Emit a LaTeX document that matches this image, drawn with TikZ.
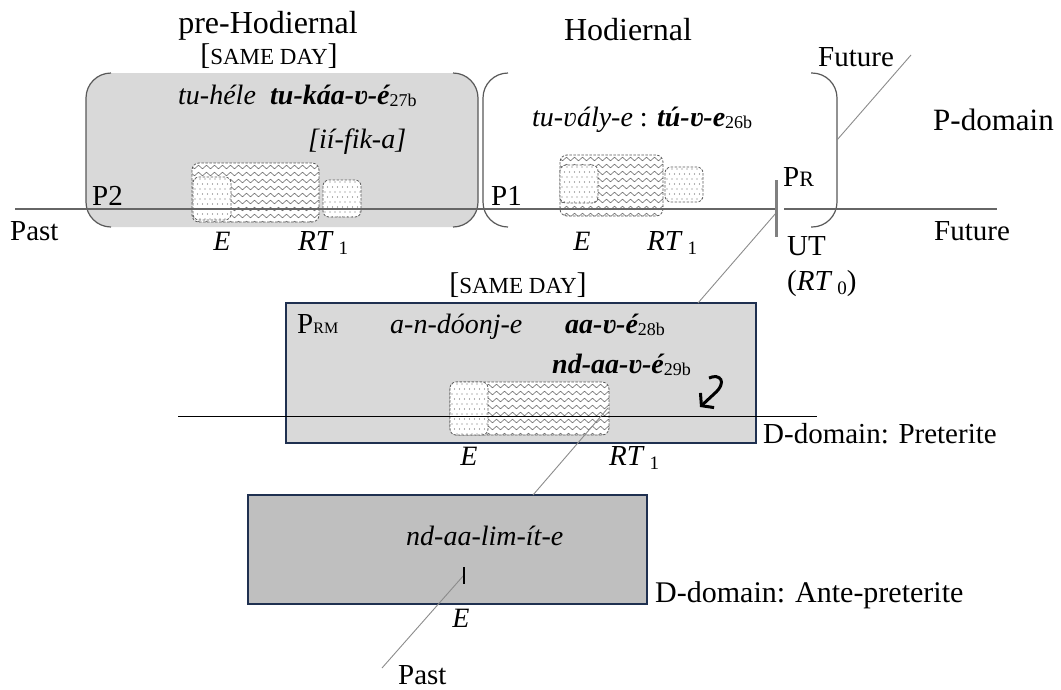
\documentclass[tikz,border=0pt]{standalone}
\usepackage{fontspec}
\setmainfont{Liberation Serif}
\usetikzlibrary{decorations.pathmorphing,arrows.meta}
\newcommand{\fs}[1]{\fontsize{#1}{#1}\selectfont}
\newcommand{\RTsub}[1]{\textit{RT}\,{\fs{19}\raisebox{-4pt}{#1}}}
\newcommand{\exsub}[1]{{\fs{18}\raisebox{-2pt}{#1}}}
\definecolor{navy}{HTML}{1F3050}
\definecolor{lightfill}{HTML}{D9D9D9}
\definecolor{darkfill}{HTML}{BFBFBF}
\tikzset{
  lbl/.style={inner sep=0pt, font=\fs{29}},
  big/.style={inner sep=0pt, font=\fs{32}},
  ex/.style={inner sep=0pt, font=\fs{28}\itshape},
  bracketline/.style={draw=black!65, line width=1.2pt, rounded corners=25pt},
  tl/.style={draw=black!60, line width=1.3pt},
  diag/.style={draw=black!45, line width=0.9pt},
  evb/.style={draw=black!65, dashed, dash pattern=on 2.5pt off 1.5pt, line width=0.8pt},
  wave/.style={draw=black!55, line width=0.6pt, decorate, decoration={snake, amplitude=1.8pt, segment length=8pt}},
  domainbox/.style={draw=navy, line width=2.5pt},
}
\newcommand{\wavybox}[4]{%
  \begin{scope}
    \clip[rounded corners=7pt] (#1,#2) rectangle (#3,#4);
    \fill[white] (#1,#2) rectangle (#3,#4);
    \foreach \k in {0,...,8}{
      \draw[wave] ({#1-4},{#2+4+\k*7}) -- ({#3+4},{#2+4+\k*7});
    }
  \end{scope}
  \draw[evb, rounded corners=7pt] (#1,#2) rectangle (#3,#4);
}
\newcommand{\dotbox}[4]{%
  \begin{scope}
    \clip[rounded corners=6pt] (#1,#2) rectangle (#3,#4);
    \fill[white] (#1,#2) rectangle (#3,#4);
    \foreach \i in {0,...,9}{\foreach \j in {0,...,11}{
      \fill[black!60] ({#1+2+\i*5+mod(\j,2)*2.5},{#2+2+\j*5}) circle (0.6pt);
    }}
  \end{scope}
  \draw[evb, rounded corners=6pt] (#1,#2) rectangle (#3,#4);
}
\begin{document}
\begin{tikzpicture}[x=1pt, y=-1pt]
\useasboundingbox (0,0) rectangle (1061,689);
\fill[white] (0,0) rectangle (1061,689);

% pre-Hodiernal region
\fill[lightfill, rounded corners=25pt] (86,73) rectangle (478,227);
\draw[bracketline] (111,73) -- (86,73) -- (86,227) -- (111,227);
\draw[bracketline] (453,73) -- (478,73) -- (478,227) -- (453,227);
% Hodiernal brackets
\draw[bracketline] (508,73) -- (483,73) -- (483,227) -- (508,227);
\draw[bracketline] (811,73) -- (837,73) -- (837,227) -- (811,227);

% D-domain boxes
\fill[lightfill] (286,303) rectangle (756,443);
\draw[domainbox] (286,303) rectangle (756,443);
\fill[darkfill] (248,495) rectangle (647,604);
\draw[domainbox] (248,495) rectangle (647,604);

% event boxes, pre-Hodiernal
\wavybox{192}{163}{319}{222}
\dotbox{193}{177}{231}{220}
\dotbox{323}{180}{361}{217}
% event boxes, Hodiernal
\wavybox{560}{155}{663}{216}
\dotbox{560}{165}{598}{203}
\dotbox{665}{167}{703}{202}
% event boxes, Preterite
\wavybox{450}{382}{609}{435}
\dotbox{450}{382}{488}{435}

% timelines
\coordinate (tlL) at (15,209);
\coordinate (prL) at (776,209);
\coordinate (prR) at (784,209);
\coordinate (tlR) at (997,209);
\draw[tl] (tlL) -- (prL);
\draw[tl] (prR) -- (tlR);
\coordinate (ptL) at (178,416);
\coordinate (ptR) at (817,416);
\draw[draw=black, line width=0.8pt] (ptL) -- (ptR);

% diagonal Past--Future line (visible parts)
\coordinate (dTop) at (911,55);
\coordinate (dBr) at (837,140);
\coordinate (dPR) at (776,213);
\coordinate (dPRM) at (698,303);
\coordinate (dRT) at (608,408);
\coordinate (dAnte) at (533,495);
\coordinate (dE) at (464,575);
\coordinate (dPast) at (382,668);
\draw[diag] (dTop) -- (dBr);
\draw[diag] (dPR) -- (dPRM);
\draw[diag] (dRT) -- (dAnte);
\draw[diag] (dE) -- (dPast);

% ticks
\coordinate (tkT) at (776,180);
\coordinate (tkB) at (776,237);
\draw[draw=black!50, line width=3pt] (tkT) -- (tkB);
\coordinate (eT) at (464,567);
\coordinate (eB) at (464,584);
\draw[draw=black, line width=1.8pt] (eT) -- (eB);

% hooked arrow
\coordinate (arS) at (709,378);
\coordinate (arE) at (700,407);
\draw[line width=3pt, -{Straight Barb[length=8pt, width=20pt, line width=3pt]}] (arS) .. controls (720,373) and (728,382) .. (714,394) -- (arE);

% texts: P-domain
\node[big, anchor=base] (preH) at (268,33) {pre-Hodiernal};
\node[inner sep=0pt, anchor=base] (sd1) at (269,64) {\fs{30}[\fs{23}SAME DAY\fs{30}]};
\node[ex, anchor=base west] (tuhele) at (178,104) {tu-héle};
\node[inner sep=0pt, anchor=base west] (tukaa) at (270,104) {\fs{28}\bfseries\itshape tu-káa-ʋ-é\exsub{\mdseries\upshape 27b}};
\node[ex, anchor=base west] (iifika) at (308,148) {[ií-fik-a]};
\node[lbl, anchor=base west] (P2) at (92,205) {P2};
\node[lbl, anchor=base west] (pastL) at (10,240) {Past};
\node[ex, anchor=base] (E1) at (222,250) {E};
\node[lbl, anchor=base west] (RT1a) at (298,250) {\RTsub{1}};

\node[big, anchor=base] (hod) at (628,40) {Hodiernal};
\node[inner sep=0pt, anchor=base west] (tuvaly) at (532,126) {\fs{28}\textit{tu-ʋály-e} : \textbf{\textit{tú-ʋ-e}}\exsub{26b}};
\node[lbl, anchor=base west] (P1) at (491,205) {P1};
\node[ex, anchor=base] (E2) at (582,250) {E};
\node[lbl, anchor=base west] (RT1b) at (647,250) {\RTsub{1}};

\node[lbl, anchor=base west] (PR) at (783,186) {P{\fs{22}R}};
\node[lbl, anchor=base west] (UT) at (787,255) {UT};
\node[lbl, anchor=base west] (RT0) at (787,290) {(\RTsub{0})};
\node[lbl, anchor=base west] (futT) at (818,66) {Future};
\node[lbl, anchor=base west] (pdom) at (933,130) {\fs{31}P-domain};
\node[lbl, anchor=base west] (futR) at (934,240) {Future};

% Preterite
\node[inner sep=0pt, anchor=base] (sd2) at (518,293) {\fs{30}[\fs{23}SAME DAY\fs{30}]};
\node[lbl, anchor=base west] (PRM) at (297,333) {P{\fs{16}RM}};
\node[ex, anchor=base west] (andoonj) at (390,333) {a-n-dóonj-e};
\node[inner sep=0pt, anchor=base west] (aave) at (565,333) {\fs{28}\bfseries\itshape aa-ʋ-é\exsub{\mdseries\upshape 28b}};
\node[inner sep=0pt, anchor=base west] (ndaave) at (552,373) {\fs{28}\bfseries\itshape nd-aa-ʋ-é\exsub{\mdseries\upshape 29b}};
\node[ex, anchor=base] (E3) at (469,465) {E};
\node[lbl, anchor=base west] (RT1c) at (609,465) {\RTsub{1}};
\node[lbl, anchor=base west] (dpret) at (763,443) {D-domain: Preterite};

% Ante-preterite
\node[ex, anchor=base west] (ndaalim) at (406,545) {nd-aa-lim-ít-e};
\node[ex, anchor=base] (E4) at (461,627) {E};
\node[lbl, anchor=base west] (dante) at (655,602) {\fs{30}D-domain: Ante-preterite};
\node[lbl, anchor=base west] (pastB) at (398,684) {Past};
\end{tikzpicture}
\end{document}
